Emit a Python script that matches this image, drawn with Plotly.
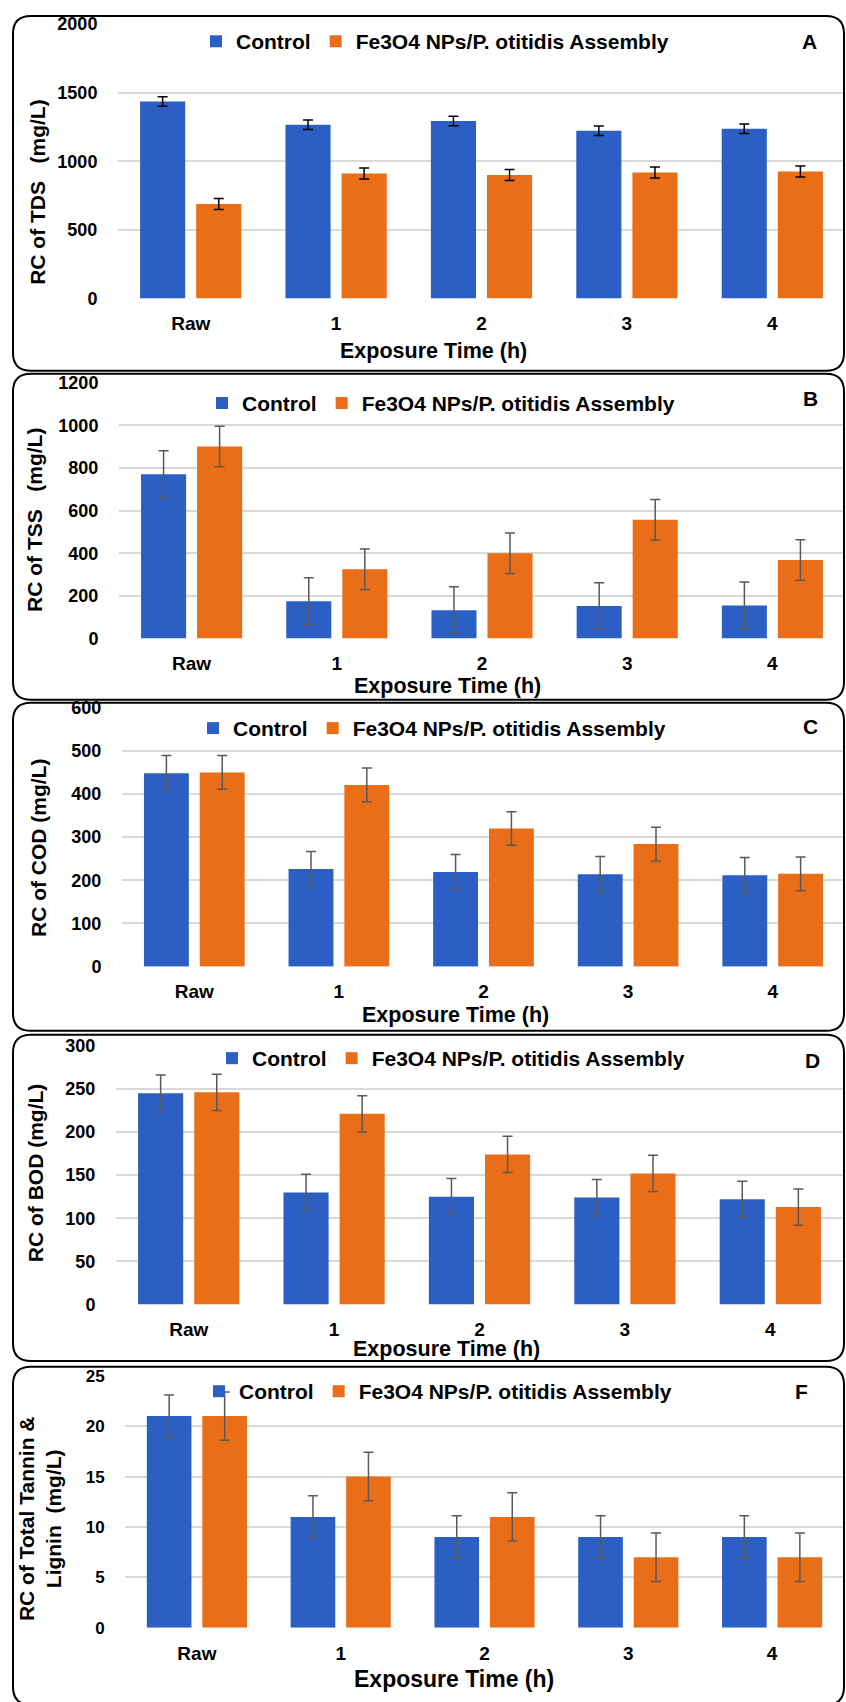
import plotly.graph_objects as go

# ---------------- data ----------------
categories = ["Raw", "1", "2", "3", "4"]
series_names = ["Control", "Fe3O4 NPs/P. otitidis Assembly"]

tds_control = [1435, 1265, 1293, 1222, 1236]
tds_assembly = [688, 910, 900, 918, 925]
tds_control_err = [35, 35, 35, 35, 35]
tds_assembly_err = [40, 40, 40, 40, 40]

tss_control = [770, 175, 133, 152, 155]
tss_assembly = [900, 325, 400, 557, 368]
tss_control_err = [110, 110, 110, 110, 110]
tss_assembly_err = [95, 95, 95, 95, 95]

cod_control = [448, 226, 219, 214, 212]
cod_assembly = [450, 421, 320, 284, 215]
cod_control_err = [41, 41, 41, 41, 41]
cod_assembly_err = [39, 39, 39, 39, 39]

bod_control = [245, 130, 125, 124, 122]
bod_assembly = [246, 221, 174, 152, 113]
bod_control_err = [21, 21, 21, 21, 21]
bod_assembly_err = [21, 21, 21, 21, 21]

tl_control = [21, 11, 9, 9, 9]
tl_assembly = [21, 15, 11, 7, 7]
tl_control_err = [2.1, 2.1, 2.1, 2.1, 2.1]
tl_assembly_err = [2.4, 2.4, 2.4, 2.4, 2.4]

y_titles = ["RC of TDS\u00a0\u00a0\u00a0(mg/L)", "RC of TSS\u00a0\u00a0\u00a0(mg/L)",
            "RC of COD (mg/L)", "RC of BOD (mg/L)",
            "RC of Total Tannin &<br>Lignin\u00a0\u00a0(mg/L)"]
x_title = "Exposure Time (h)"
panel_letters = ["A", "B", "C", "D", "F"]
y_ranges = [(0, 2000), (0, 1200), (0, 600), (0, 300), (0, 25)]
y_dticks = [500, 200, 100, 50, 5]

# ---------------- layout constants (pixels) ----------------
W, H = 846, 1702
BLUE = "#2B5FC4"
ORANGE = "#EA6E18"
FONT = "Liberation Sans, Arial, sans-serif"

# plot area: (x0, x1, ytop, ybottom)
plot_px = [
    (118, 845, 14, 292),
    (119, 845, 377, 636),
    (122, 845, 706, 968),
    (116, 843, 1048, 1310),
    (125, 844, 1382, 1637),
]
boxes = [
    (13, 6, 844, 365),
    (13, 368, 844, 698),
    (13, 701, 844, 1033),
    (13, 1037, 844, 1367),
    (13, 1373, 844, 1715),
]
ytitle_pos = [(38, 185), (35, 516), (38, 848), (35, 1177), (40, 1527)]
xtitle_pos = [(433, 345), (447, 684), (455, 1017), (446, 1355), (454, 1689)]
xtitle_sizes = [21.5, 21.5, 21.5, 21.5, 23]
letter_pos = [(809, 32), (810, 393), (810, 725), (812, 1063), (801, 1398)]
legend_pos = [(196, 32), (202, 398), (193, 727), (212, 1061), (199, 1398)]
err_colors = ["#000000", "#595959", "#595959", "#595959", "#595959"]
tick_sizes = [18, 18, 18, 18, 17]


def px(x):
    return x / W


def py(y):
    return 1 - y / H


panels = [
    (tds_control, tds_assembly, tds_control_err, tds_assembly_err),
    (tss_control, tss_assembly, tss_control_err, tss_assembly_err),
    (cod_control, cod_assembly, cod_control_err, cod_assembly_err),
    (bod_control, bod_assembly, bod_control_err, bod_assembly_err),
    (tl_control, tl_assembly, tl_control_err, tl_assembly_err),
]

fig = go.Figure()
layout = dict(
    width=W, height=H, margin=dict(l=0, r=0, t=0, b=0),
    paper_bgcolor="white", plot_bgcolor="white",
    barmode="group", bargap=0.228, bargroupgap=0.196,
    font=dict(family=FONT, color="black"),
    shapes=[], annotations=[],
)


def rounded_path(x0, y0, x1, y1, r):
    pts = []
    pts.append(f"M {px(x0 + r)},{py(y0)}")
    pts.append(f"L {px(x1 - r)},{py(y0)}")
    pts.append(f"Q {px(x1)},{py(y0)} {px(x1)},{py(y0 + r)}")
    pts.append(f"L {px(x1)},{py(y1 - r)}")
    pts.append(f"Q {px(x1)},{py(y1)} {px(x1 - r)},{py(y1)}")
    pts.append(f"L {px(x0 + r)},{py(y1)}")
    pts.append(f"Q {px(x0)},{py(y1)} {px(x0)},{py(y1 - r)}")
    pts.append(f"L {px(x0)},{py(y0 + r)}")
    pts.append(f"Q {px(x0)},{py(y0)} {px(x0 + r)},{py(y0)}")
    pts.append("Z")
    return " ".join(pts)


for i, (c, a, ce, ae) in enumerate(panels):
    n = i + 1
    xa = "x" if n == 1 else f"x{n}"
    ya = "y" if n == 1 else f"y{n}"
    leg = "legend" if n == 1 else f"legend{n}"
    for vals, errs, name, color in ((c, ce, series_names[0], BLUE), (a, ae, series_names[1], ORANGE)):
        fig.add_trace(go.Bar(
            x=categories, y=vals, name=name, xaxis=xa, yaxis=ya, legend=leg,
            marker=dict(color=color, line=dict(width=0)),
            error_y=dict(type="data", array=errs, visible=True, color=err_colors[i],
                         thickness=1.5, width=5),
        ))
    x0, x1, yt, yb = plot_px[i]
    xkey = "xaxis" if n == 1 else f"xaxis{n}"
    ykey = "yaxis" if n == 1 else f"yaxis{n}"
    layout[xkey] = dict(domain=[px(x0), px(x1)], anchor=ya, type="category",
                        showgrid=False, showline=False, zeroline=False,
                        ticks="outside", ticklen=8, tickcolor="rgba(0,0,0,0)",
                        tickfont=dict(size=19, family=FONT, weight="bold", color="black"))
    layout[ykey] = dict(domain=[py(yb), py(yt)], anchor=xa, range=list(y_ranges[i]),
                        dtick=y_dticks[i], tick0=0, showgrid=True, gridcolor="#D9D9D9",
                        gridwidth=1.5, zeroline=False, showline=False,
                        ticks="outside", ticklen=16, tickcolor="rgba(0,0,0,0)",
                        tickfont=dict(size=tick_sizes[i], family=FONT, weight="bold", color="black"))
    lx, ly = legend_pos[i]
    layout[leg] = dict(orientation="h", x=px(lx), y=py(ly), xanchor="left", yanchor="middle",
                       bgcolor="rgba(0,0,0,0)", borderwidth=0, itemclick=False,
                       font=dict(size=21, family=FONT, weight="bold", color="black"))
    bx0, by0, bx1, by1 = boxes[i]
    layout["shapes"].append(dict(type="path", xref="paper", yref="paper",
                                 path=rounded_path(bx0, by0, bx1, by1, 18),
                                 line=dict(color="black", width=2), fillcolor="rgba(0,0,0,0)"))
    tx, ty = ytitle_pos[i]
    layout["annotations"].append(dict(text=y_titles[i], x=px(tx), y=py(ty), xref="paper", yref="paper",
                                      textangle=-90, showarrow=False, xanchor="center", yanchor="middle",
                                      font=dict(size=21, family=FONT, weight="bold", color="black")))
    tx, ty = xtitle_pos[i]
    layout["annotations"].append(dict(text=x_title, x=px(tx), y=py(ty), xref="paper", yref="paper",
                                      showarrow=False, xanchor="center", yanchor="middle",
                                      font=dict(size=xtitle_sizes[i], family=FONT, weight="bold",
                                                color="black")))
    tx, ty = letter_pos[i]
    layout["annotations"].append(dict(text=panel_letters[i], x=px(tx), y=py(ty), xref="paper", yref="paper",
                                      showarrow=False, xanchor="center", yanchor="middle",
                                      font=dict(size=21, family=FONT, weight="bold", color="black")))

fig.update_layout(**layout)
fig.write_html("out.html", config={"displayModeBar": False},
               post_script="document.body.style.margin='0';document.body.style.overflow='hidden';"
                           "document.documentElement.style.overflow='hidden';")
